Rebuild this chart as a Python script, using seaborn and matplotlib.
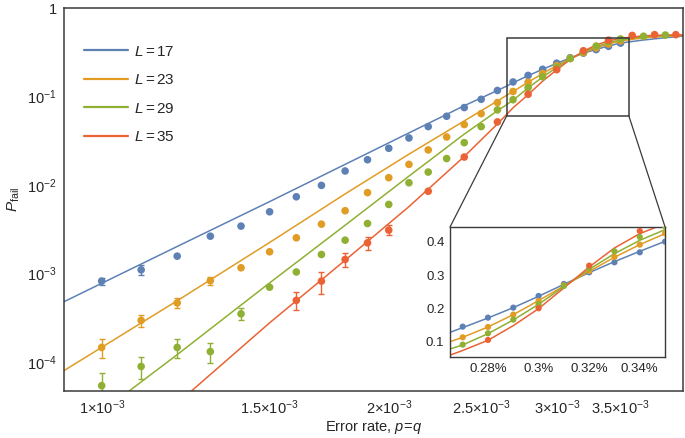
import numpy as np
import pandas as pd
import matplotlib
matplotlib.use("Agg")
import matplotlib.pyplot as plt
from matplotlib.lines import Line2D
from matplotlib.patches import Rectangle, ConnectionPatch
from matplotlib.ticker import NullLocator
import seaborn as sns

# lattice sizes and colours (Mathematica default palette)
sizes = [17, 23, 29, 35]
colors = ["#5E81B5", "#E19C24", "#8FB032", "#EB6235"]

# simulated failure rates, p in units of 1e-3
p_17 = [1.0, 1.1, 1.2, 1.3, 1.4, 1.5, 1.6, 1.7, 1.8, 1.9, 2.0, 2.1, 2.2, 2.3, 2.4,
        2.5, 2.6, 2.7, 2.8, 2.9, 3.0, 3.1, 3.2, 3.3, 3.4, 3.5]
pf_17 = [8.2e-4, 1.1e-3, 1.57e-3, 2.64e-3, 3.43e-3, 4.98e-3, 7.36e-3, 9.9e-3, 0.0144,
         0.0193, 0.026, 0.034, 0.0457, 0.0598, 0.075, 0.093, 0.117, 0.146, 0.173,
         0.203, 0.238, 0.274, 0.309, 0.339, 0.369, 0.401]
err_17 = [8e-5, 1.4e-4] + [0] * 24

p_23 = p_17
pf_23 = [1.46e-4, 2.95e-4, 4.65e-4, 8.3e-4, 1.16e-3, 1.76e-3, 2.53e-3, 3.61e-3, 5.12e-3,
         8.2e-3, 0.0121, 0.0171, 0.0249, 0.0349, 0.0482, 0.064, 0.0855, 0.114, 0.145,
         0.182, 0.223, 0.270, 0.313, 0.355, 0.392, 0.426]
err_23 = [3.4e-5, 4.5e-5, 6e-5, 8e-5] + [0] * 22

p_29 = p_17 + [3.7, 3.9]
pf_29 = [5.4e-5, 8.9e-5, 1.46e-4, 1.31e-4, 3.5e-4, 7.0e-4, 1.04e-3, 1.64e-3, 2.38e-3,
         3.67e-3, 6.03e-3, 0.0106, 0.014, 0.0199, 0.0301, 0.0457, 0.0706, 0.092, 0.126,
         0.167, 0.213, 0.268, 0.321, 0.372, 0.415, 0.447, 0.48, 0.495]
err_29 = [2.2e-5, 2.5e-5, 3.4e-5, 3.4e-5, 5.5e-5] + [0] * 23

p_35 = [1.6, 1.7, 1.8, 1.9, 2.0, 2.2, 2.4, 2.6, 2.8, 3.0, 3.2, 3.4, 3.6, 3.8, 4.0]
pf_35 = [4.97e-4, 8.2e-4, 1.44e-3, 2.22e-3, 3.09e-3, 8.5e-3, 0.0207, 0.0516, 0.106,
         0.201, 0.329, 0.433, 0.49, 0.50, 0.50]
err_35 = [1.15e-4, 2.3e-4, 2.6e-4, 3.7e-4, 4e-4] + [0] * 10

# fitted curves, read at these p (units of 1e-3)
fit_p = [0.9, 1.2, 1.5, 1.8, 2.1, 2.4, 2.6, 2.65, 2.7, 2.8, 2.9, 3.0, 3.1, 3.2, 3.3,
         3.4, 3.5, 3.7, 3.9, 4.1]
fit_17 = [4.45e-4, 2.02e-3, 6.49e-3, 0.0171, 0.0388, 0.0787, 0.117, 0.129, 0.143, 0.172,
          0.203, 0.237, 0.273, 0.308, 0.341, 0.372, 0.402, 0.435, 0.462, 0.485]
fit_23 = [7.26e-5, 4.92e-4, 2.24e-3, 7.93e-3, 0.0223, 0.053, 0.089, 0.101, 0.114, 0.145,
          0.182, 0.224, 0.268, 0.312, 0.354, 0.392, 0.425, 0.46, 0.48, 0.49]
fit_29 = [1.16e-5, 1.21e-4, 7.83e-4, 3.51e-3, 0.0126, 0.0376, 0.069, 0.079, 0.091, 0.125,
          0.166, 0.213, 0.266, 0.318, 0.365, 0.405, 0.437, 0.475, 0.49, 0.495]
fit_35 = [2.1e-6, 3.4e-5, 2.77e-4, 1.41e-3, 5.7e-3, 0.021, 0.049, 0.0605, 0.0745, 0.105,
          0.149, 0.200, 0.262, 0.325, 0.382, 0.425, 0.455, 0.485, 0.495, 0.498]

xticks = [1.0, 1.5, 2.0, 2.5, 3.0, 3.5]
xtick_labels = [r"$1{\times}10^{-3}$", r"$1.5{\times}10^{-3}$", r"$2{\times}10^{-3}$",
                r"$2.5{\times}10^{-3}$", r"$3{\times}10^{-3}$", r"$3.5{\times}10^{-3}$"]
yticks = [1e-4, 1e-3, 1e-2, 1e-1, 1]
ytick_labels = [r"$10^{-4}$", r"$10^{-3}$", r"$10^{-2}$", r"$10^{-1}$", "1"]
inset_xticks = [2.8, 3.0, 3.2, 3.4]
inset_xtick_labels = ["0.28%", "0.3%", "0.32%", "0.34%"]
inset_yticks = [0.1, 0.2, 0.3, 0.4]

sns.set_style("white")
plt.rcParams["font.family"] = ["Liberation Sans", "DejaVu Sans"]
plt.rcParams["mathtext.fontset"] = "custom"
plt.rcParams["mathtext.rm"] = "Liberation Sans"
plt.rcParams["mathtext.it"] = "Liberation Sans:italic"

pts = pd.concat([
    pd.DataFrame({"p": np.array(p) * 1e-3, "P": pf, "err": e, "L": L})
    for p, pf, e, L in [(p_17, pf_17, err_17, 17), (p_23, pf_23, err_23, 23),
                        (p_29, pf_29, err_29, 29), (p_35, pf_35, err_35, 35)]
])
fits = pd.concat([
    pd.DataFrame({"p": np.array(fit_p) * 1e-3, "P": f, "L": L})
    for f, L in [(fit_17, 17), (fit_23, 23), (fit_29, 29), (fit_35, 35)]
])
pal = dict(zip(sizes, colors))
frame = "#3a3a3a"

fig = plt.figure(figsize=(6.85, 4.38), dpi=100)
ax = fig.add_axes([0.0934, 0.1073, 0.9037, 0.8744])
ax.set_xscale("log")
ax.set_yscale("log")


def draw(a, ms, capsize):
    sns.lineplot(data=fits, x="p", y="P", hue="L", palette=pal, linewidth=1.1,
                 legend=False, ax=a, sort=True)
    for L in sizes:
        d = pts[(pts.L == L) & (pts.err > 0)]
        a.errorbar(d.p, d.P, yerr=d.err, fmt="none", ecolor=pal[L], elinewidth=1,
                   capsize=capsize, capthick=1)
    sns.scatterplot(data=pts, x="p", y="P", hue="L", palette=pal, s=ms, linewidth=0,
                    legend=False, ax=a, zorder=3)


draw(ax, 30, 2.2)
ax.set_xlim(9.13e-4, 4.07e-3)
ax.set_ylim(4.7e-5, 1)
ax.set_xticks(np.array(xticks) * 1e-3)
ax.set_xticklabels(xtick_labels)
ax.set_yticks(yticks)
ax.set_yticklabels(ytick_labels)
ax.xaxis.set_minor_locator(NullLocator())
ax.yaxis.set_minor_locator(NullLocator())
ax.tick_params(direction="in", length=4, width=0.9, color=frame, labelsize=10.5, pad=5)
ax.set_xlabel(r"Error rate, $p\!=\!q$", fontsize=10.5, labelpad=2)
ax.set_ylabel(r"$P_{\rm fail}$", fontsize=11, labelpad=4)
for s in ax.spines.values():
    s.set_color(frame)
    s.set_linewidth(1.1)

handles = [Line2D([], [], color=c, lw=1.6) for c in colors]
labels = [rf"$L = {L}$" for L in sizes]
ax.legend(handles, labels, loc="upper left", bbox_to_anchor=(0.01, 0.94), frameon=False,
          fontsize=11, handlelength=2.9, handletextpad=0.4, labelspacing=0.95)

# zoom box
bx0, bx1, by0, by1 = 2.66e-3, 3.57e-3, 0.061, 0.455
ax.add_patch(Rectangle((bx0, by0), bx1 - bx0, by1 - by0, fill=False, ec=frame, lw=1.1,
                       zorder=4))

axin = fig.add_axes([0.657, 0.185, 0.3139, 0.2968])
draw(axin, 20, 0)
axin.set_xlim(2.65e-3, 3.5e-3)
axin.set_ylim(0.055, 0.445)
axin.set_xticks(np.array(inset_xticks) * 1e-3)
axin.set_xticklabels(inset_xtick_labels)
axin.set_yticks(inset_yticks)
axin.set_yticklabels([f"{v:g}" for v in inset_yticks])
axin.set_xlabel("")
axin.set_ylabel("")
axin.tick_params(direction="in", length=3.5, width=0.8, color=frame, labelsize=9.5, pad=4)
for s in axin.spines.values():
    s.set_color(frame)
    s.set_linewidth(1.0)

for xa, xb in [(bx0, 0), (bx1, 1)]:
    con = ConnectionPatch(xyA=(xa, by0), coordsA=ax.transData, xyB=(xb, 1),
                          coordsB=axin.transAxes, color=frame, lw=0.9)
    fig.add_artist(con)

fig.savefig("out.png", dpi=100)
